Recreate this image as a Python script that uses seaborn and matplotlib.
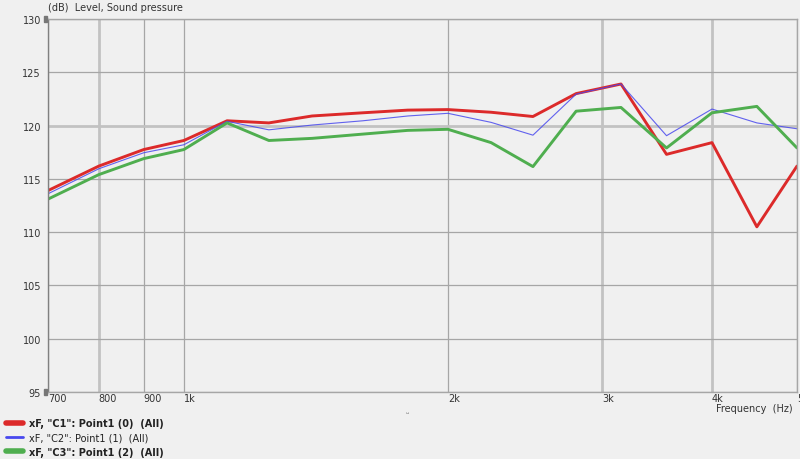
import numpy as np
import pandas as pd
import matplotlib
matplotlib.use('Agg')
import matplotlib.pyplot as plt
import seaborn as sns
from matplotlib.lines import Line2D
from matplotlib.patches import Rectangle

# Data (1/6-octave points)
freq = [700, 800, 900, 1000, 1120, 1250, 1400, 1600, 1800, 2000,
        2240, 2500, 2800, 3150, 3550, 4000, 4500, 5000]
c1 = [113.9, 116.2, 117.75, 118.6, 120.45, 120.25, 120.9, 121.2, 121.45, 121.5,
      121.25, 120.85, 123.0, 123.9, 117.3, 118.4, 110.5, 116.2]
c2 = [113.6, 115.95, 117.45, 118.2, 120.4, 119.6, 120.05, 120.45, 120.9, 121.15,
      120.3, 119.1, 122.95, 123.9, 119.05, 121.55, 120.25, 119.7]
c3 = [113.1, 115.4, 116.9, 117.75, 120.25, 118.6, 118.8, 119.2, 119.55, 119.65,
      118.4, 116.15, 121.35, 121.7, 117.9, 121.2, 121.8, 117.9]

x_ticks = [700, 800, 900, 1000, 2000, 3000, 4000, 5000]
x_labels = ['700', '800', '900', '1k', '2k', '3k', '4k', '5k']
y_ticks = [95, 100, 105, 110, 115, 120, 125, 130]

series_names = ['xF, "C1": Point1 (0)  (All)',
                'xF, "C2": Point1 (1)  (All)',
                'xF, "C3": Point1 (2)  (All)']
colors = ['#dc2a2a', '#4848ee', '#4fae4f']
widths = [2.1, 0.8, 2.1]

df = pd.DataFrame({'freq': freq * 3,
                   'level': c1 + c2 + c3,
                   'series': [series_names[0]] * len(freq) + [series_names[1]] * len(freq)
                             + [series_names[2]] * len(freq)})

sns.set_style('white')
plt.rcParams['font.family'] = ['DejaVu Sans']

bg = '#f0f0f0'
fig = plt.figure(figsize=(8, 4.6), dpi=100, facecolor=bg)
ax = fig.add_axes([48 / 800, 1 - 393 / 460, (797 - 48) / 800, (393 - 20) / 460])
ax.set_facecolor(bg)

for name, col, lw in zip(series_names, colors, widths):
    sub = df[df['series'] == name]
    sns.lineplot(data=sub, x='freq', y='level', ax=ax, color=col, lw=lw,
                 alpha=0.85 if lw < 1 else 1.0, legend=False)

ax.set_xscale('log')
ax.set_xlim(700, 5000)
ax.set_ylim(95, 130)
ax.set_xticks(x_ticks)
ax.set_xticklabels(x_labels, ha='left')
ax.set_xticks([1500, 2500, 3500, 4500], minor=True)
ax.xaxis.set_minor_formatter(plt.NullFormatter())
ax.set_yticks(y_ticks)
ax.set_yticklabels([str(v) for v in y_ticks])
ax.tick_params(axis='both', which='major', length=0, labelsize=7, colors='#333333')
ax.tick_params(axis='x', which='major', pad=1)
ax.tick_params(axis='y', which='major', pad=5)
ax.tick_params(axis='x', which='minor', direction='in', length=3, color='#999999')
ax.set_xlabel('')
ax.set_ylabel('')

ax.grid(True, which='major', color='#a6a6a6', lw=0.9)
ax.set_axisbelow(True)
for gl, v in zip(ax.get_xgridlines(), x_ticks):
    if v in (800, 3000, 4000):
        gl.set_color('#c2c2c2')
        gl.set_linewidth(2)
for gl, v in zip(ax.get_ygridlines(), y_ticks):
    if v == 120:
        gl.set_color('#c2c2c2')
        gl.set_linewidth(2)

for side in ['top', 'right', 'bottom']:
    ax.spines[side].set_color('#a6a6a6')
    ax.spines[side].set_linewidth(1)
ax.spines['left'].set_color('#808080')
ax.spines['left'].set_linewidth(1)

# small markers on the y axis ends
for yy in (20, 393):
    fig.patches.append(Rectangle((44 / 800, 1 - (yy + 3) / 460), 3 / 800, 6 / 460,
                                 transform=fig.transFigure, color='#777777'))

fig.text(48 / 800, 1 - 8 / 460, '(dB)  Level, Sound pressure', fontsize=7,
         color='#333333', va='center', ha='left')
fig.text(793 / 800, 1 - 409 / 460, 'Frequency  (Hz)', fontsize=7,
         color='#333333', va='center', ha='right')
fig.text(407 / 800, 1 - 415 / 460, 'ᵕ', fontsize=6, color='#555555', ha='center', va='center')

handles = [Line2D([0], [0], color=c, lw=(4 if lw > 1 else 2)) for c, lw in zip(colors, widths)]
leg = fig.legend(handles, series_names, loc='upper left', bbox_to_anchor=(4 / 800, 1 - 417 / 460),
                 frameon=False, fontsize=7, handlelength=1.75, handletextpad=0.6,
                 labelspacing=0.45, borderaxespad=0, borderpad=0.2)
for i, t in enumerate(leg.get_texts()):
    t.set_color('#222222')
    if i != 1:
        t.set_fontweight('bold')

fig.savefig('out.png', dpi=100, facecolor=bg)
